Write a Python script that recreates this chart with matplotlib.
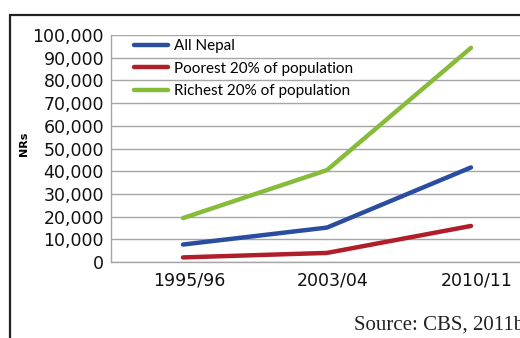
"""
Per capita income in Nepal by survey round (NRs).
"""

import matplotlib
matplotlib.use('Agg')
import matplotlib.pyplot as plt
import matplotlib.transforms as mtransforms
from matplotlib.patches import Rectangle
from matplotlib.ticker import FuncFormatter

years = ['1995/96', '2003/04', '2010/11']
all_nepal = [7690, 15162, 41659]
poorest_20 = [2020, 4003, 15888]
richest_20 = [19347, 40486, 94360]

series_labels = ['All Nepal', 'Poorest 20% of population', 'Richest 20% of population']
series_colors = ['#2a4da0', '#b01e2a', '#86bc3a']

fig = plt.figure(figsize=(5.2, 3.38), dpi=100)
fig.patch.set_facecolor('white')

# outer frame of the figure box (cropped on the right and bottom)
fig.patches.append(Rectangle((10 / 520, -0.1), 1.2, (323 / 338) + 0.1,
                             transform=fig.transFigure, fill=False,
                             edgecolor='#222222', linewidth=1.6, zorder=0))

ax = fig.add_axes([111 / 520, 76 / 338, 432 / 520, 227 / 338])
ax.set_facecolor('none')

x = range(len(years))
for vals, lab, col in zip([all_nepal, poorest_20, richest_20], series_labels, series_colors):
    ax.plot(x, vals, color=col, linewidth=3.2, solid_capstyle='round',
            solid_joinstyle='round', label=lab, zorder=3)

ax.set_xlim(-0.5, 2.5)
ax.set_ylim(0, 100000)
ax.set_yticks(range(0, 100001, 10000))
ax.yaxis.set_major_formatter(FuncFormatter(lambda v, p: f'{int(v):,}'))
ax.set_xticks(list(x))
ax.set_xticklabels(years)

ax.grid(axis='y', color='#a6a6a6', linewidth=1.0, zorder=0)
for side in ['top', 'right']:
    ax.spines[side].set_visible(False)
for side in ['left', 'bottom']:
    ax.spines[side].set_color('#a6a6a6')
    ax.spines[side].set_linewidth(1.0)

ax.tick_params(axis='y', length=0, pad=5, labelsize=12.5, labelcolor='#111111')
ax.tick_params(axis='x', length=0, pad=7, labelsize=12.5, labelcolor='#111111')

# category labels sit a little to the right of the data points
shift = mtransforms.ScaledTranslation(6 / 100, 0, fig.dpi_scale_trans)
for lbl in ax.get_xticklabels():
    lbl.set_transform(lbl.get_transform() + shift)

ax.set_ylabel('NRs', fontsize=8, fontweight='bold')
ax.yaxis.set_label_coords(-0.19, 0.52)

leg = ax.legend(loc='upper left', bbox_to_anchor=(0.036, 1.015), frameon=False,
                prop={'family': 'Lato', 'size': 11}, handlelength=2.2,
                handletextpad=0.4, labelspacing=0.56, borderpad=0)
for line in leg.get_lines():
    line.set_linewidth(3.2)

fig.text(354 / 520, 13 / 338, 'Source: CBS, 2011b', fontsize=15,
         family='Liberation Serif', ha='left', va='center', color='#222222')

plt.savefig('out.png', dpi=100)
plt.close()
